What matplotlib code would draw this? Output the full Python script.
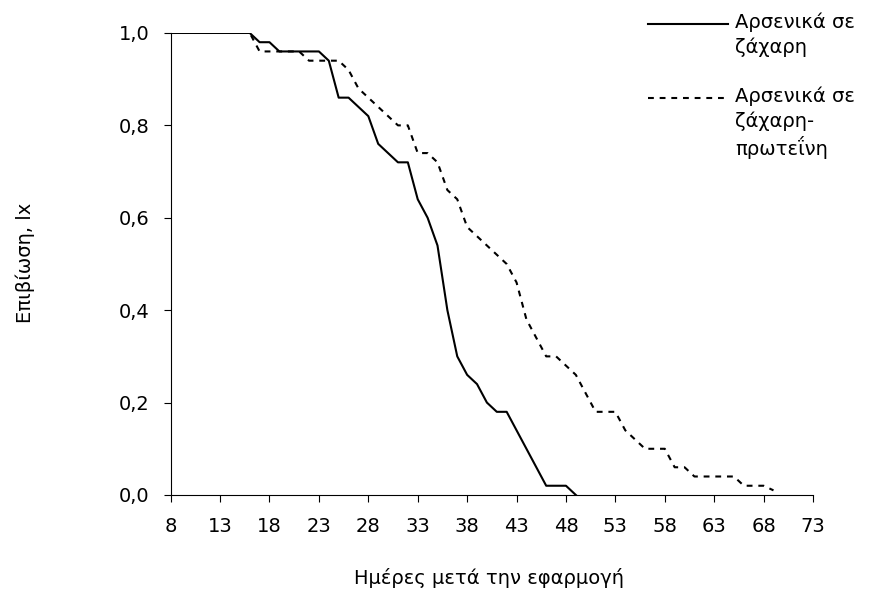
import numpy as np
import matplotlib
matplotlib.use("Agg")
import matplotlib.pyplot as plt
from matplotlib.lines import Line2D

plt.rcParams['font.family'] = ['DejaVu Sans']

# ημέρες και επιβίωση (lx)
days_sugar = np.arange(8, 50)
lx_sugar = [1.0, 1.0, 1.0, 1.0, 1.0, 1.0, 1.0, 1.0, 1.0,       # 8-16
            0.98, 0.98, 0.96, 0.96, 0.96, 0.96, 0.96, 0.94,   # 17-24
            0.86, 0.86, 0.84, 0.82, 0.76, 0.74, 0.72, 0.72,   # 25-32
            0.64, 0.60, 0.54, 0.40, 0.30, 0.26, 0.24, 0.20,   # 33-40
            0.18, 0.18, 0.14, 0.10, 0.06, 0.02, 0.02, 0.02,   # 41-48
            0.0]                                              # 49

days_prot = np.arange(8, 70)
lx_prot = [1.0, 1.0, 1.0, 1.0, 1.0, 1.0, 1.0, 1.0, 1.0,        # 8-16
           0.96, 0.96, 0.96, 0.96, 0.96, 0.94, 0.94, 0.94,    # 17-24
           0.94, 0.92, 0.88, 0.86, 0.84, 0.82, 0.80, 0.80,    # 25-32
           0.74, 0.74, 0.72, 0.66, 0.64, 0.58, 0.56, 0.54,    # 33-40
           0.52, 0.50, 0.46, 0.38, 0.34, 0.30, 0.30, 0.28,    # 41-48
           0.26, 0.22, 0.18, 0.18, 0.18, 0.14, 0.12, 0.10,    # 49-56
           0.10, 0.10, 0.06, 0.06, 0.04, 0.04, 0.04, 0.04,    # 57-64
           0.04, 0.02, 0.02, 0.02, 0.01]                      # 65-69

label_sugar = "Αρσενικά σε\nζάχαρη"
label_prot = "Αρσενικά σε\nζάχαρη-\nπρωτεΐνη"
xticks = np.arange(8, 74, 5)
yticks = [0.0, 0.2, 0.4, 0.6, 0.8, 1.0]

dash = (0, (2.8, 2.8))
fs = 14

fig = plt.figure(figsize=(8.73, 5.94), dpi=100)
ax = fig.add_axes([0.1955, 0.1667, 0.7358, 0.7778])

ax.plot(days_sugar, lx_sugar, color='black', lw=1.5)
ax.plot(days_prot, lx_prot, color='black', lw=1.5, ls=dash)

ax.set_xlim(8, 73)
ax.set_ylim(0, 1.0)
ax.set_xticks(xticks)
ax.set_yticks(yticks)
ax.set_yticklabels([f"{v:.1f}".replace('.', ',') for v in yticks])
ax.tick_params(labelsize=fs, length=5, width=0.8, direction='out')
ax.tick_params(axis='x', pad=11)
ax.tick_params(axis='y', pad=10)
for s in ['top', 'right']:
    ax.spines[s].set_visible(False)
ax.spines['left'].set_linewidth(0.8)
ax.spines['bottom'].set_linewidth(0.8)

fig.text(489 / 873, 1 - 578 / 594, "Ημέρες μετά την εφαρμογή", fontsize=fs,
         ha='center', va='center')
fig.text(25 / 873, 1 - 263 / 594, "Επιβίωση, lx", fontsize=fs,
         ha='center', va='center', rotation=90)

# υπόμνημα
for y0, style, text in [(24, '-', label_sugar), (98, dash, label_prot)]:
    yf = 1 - y0 / 594
    fig.add_artist(Line2D([648 / 873, 728 / 873], [yf, yf], color='black',
                          lw=1.5, ls=style, transform=fig.transFigure))
    fig.text(735 / 873, 1 - (y0 - 11) / 594, text, fontsize=fs,
             ha='left', va='top', linespacing=1.3)

fig.savefig("out.png", dpi=100)
